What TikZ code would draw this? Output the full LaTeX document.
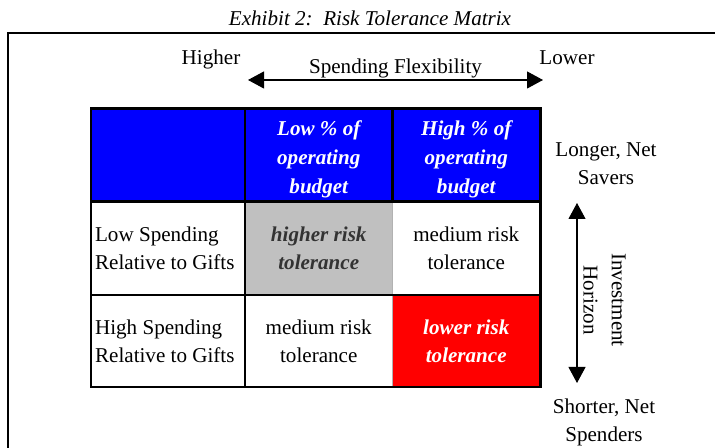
\documentclass[tikz,border=0pt]{standalone}
\usepackage{fontspec}
\setmainfont{Liberation Serif}
\usetikzlibrary{positioning, arrows.meta}

\definecolor{hdrblue}{RGB}{0,0,255}
\definecolor{riskgray}{RGB}{192,192,192}
\definecolor{riskred}{RGB}{255,0,0}
\definecolor{risktext}{RGB}{51,51,51}

\tikzset{
  every node/.style={font=\fontsize{12}{16}\selectfont, align=center, inner sep=1pt},
  hdrtext/.style={text=white, font=\fontsize{12}{16.5}\selectfont\bfseries\itshape},
  risktag/.style={font=\fontsize{12}{16}\selectfont\bfseries\itshape},
  rowtag/.style={align=left, anchor=west},
  heavy/.style={line width=1.7pt},
  bigarrow/.style={line width=0.6pt, {Triangle[length=0.32cm, width=0.34cm]}-{Triangle[length=0.32cm, width=0.34cm]}}
}

\begin{document}
\begin{tikzpicture}

\useasboundingbox (0,0) rectangle (14.3,8.96);

% title and open frame
\node [anchor=base, font=\fontsize{12}{16}\selectfont\itshape] (title) at (7.40,8.44) {Exhibit 2:\ \ Risk Tolerance Matrix};
\draw [line width=1.1pt] (0.16,0) -- (0.16,8.30) -- (14.3,8.30);

% spending flexibility axis
\node [anchor=base] (higher) at (4.22,7.66) {Higher};
\node [anchor=base] (lower) at (11.34,7.66) {Lower};
\coordinate (flexL) at (4.96,7.36);
\coordinate (flexR) at (10.86,7.36);
\draw [bigarrow] (flexL) -- node [above] (flex) {Spending Flexibility} (flexR);

% cell fills
\fill [hdrblue] (1.82,6.78) rectangle (10.80,4.92);
\fill [riskgray] (4.90,4.92) rectangle (7.85,3.06);
\fill [riskred] (7.85,3.06) rectangle (10.80,1.22);

% grid
\draw [line width=0.4pt, gray!60] (7.85,4.92) -- (7.85,1.22);
\draw [line width=1.2pt] (1.82,3.06) -- (10.80,3.06);
\draw [heavy] (1.82,4.92) -- (10.80,4.92);
\draw [heavy] (4.90,6.78) -- (4.90,1.22);
\draw [heavy] (7.85,6.78) -- (7.85,4.92);
\draw [heavy] (1.82,6.78) rectangle (10.80,1.22);

% header row
\node [hdrtext] (lowpct) at (6.375,5.78) {Low \% of\\operating\\budget};
\node [hdrtext] (highpct) at (9.325,5.78) {High \% of\\operating\\budget};

% body rows
\node [rowtag] (lowspend) at (1.86,3.99) {Low Spending\\Relative to Gifts};
\node [rowtag] (highspend) at (1.86,2.14) {High Spending\\Relative to Gifts};
\node [risktag, text=risktext] (higherrisk) at (6.375,3.99) {higher risk\\tolerance};
\node (medrisktop) at (9.325,3.99) {medium risk\\tolerance};
\node (medriskbot) at (6.375,2.14) {medium risk\\tolerance};
\node [risktag, text=white] (lowerrisk) at (9.325,2.14) {lower risk\\tolerance};

% investment horizon axis
\node (savers) at (12.12,5.68) {Longer, Net\\Savers};
\node (spenders) at (12.08,0.52) {Shorter, Net\\Spenders};
\coordinate (horizT) at (11.54,4.90);
\coordinate (horizB) at (11.54,1.30);
\draw [bigarrow] (horizT) -- (horizB);
\node [rotate=-90] (horizon) at (12.09,2.96) {Investment\\Horizon};

\end{tikzpicture}
\end{document}
